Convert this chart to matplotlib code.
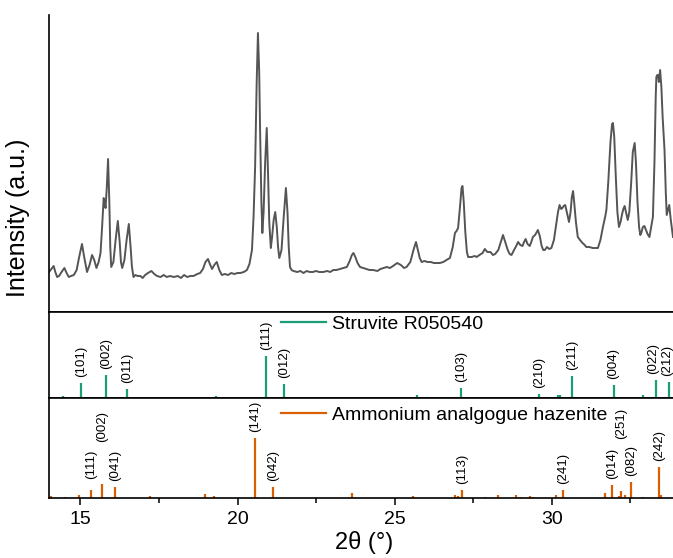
import numpy as np
import matplotlib
matplotlib.use("Agg")
import matplotlib.pyplot as plt

plt.rcParams['font.family'] = ['Liberation Sans', 'DejaVu Sans']

# measured pattern (2theta, intensity a.u.)
two_theta = [
    14.00, 14.05, 14.10, 14.15, 14.20, 14.26, 14.32, 14.40, 14.49, 14.56, 14.63, 14.70,
    14.79, 14.88, 14.96, 15.05, 15.12, 15.21, 15.29, 15.37, 15.44, 15.51, 15.58, 15.64,
    15.69, 15.74, 15.78, 15.80, 15.84, 15.88, 15.92, 15.95, 15.98, 16.05, 16.12, 16.19,
    16.25, 16.29, 16.33, 16.40, 16.47, 16.54, 16.59, 16.64, 16.69, 16.75, 16.82, 16.91,
    16.98, 17.06, 17.15, 17.26, 17.35, 17.44, 17.55, 17.65, 17.75, 17.85, 17.97, 18.10,
    18.20, 18.30, 18.40, 18.50, 18.60, 18.72, 18.81, 18.90, 18.98, 19.06, 19.12, 19.19,
    19.26, 19.34, 19.42, 19.50, 19.60, 19.70, 19.80, 19.90, 20.00, 20.09, 20.20, 20.30,
    20.38, 20.46, 20.51, 20.56, 20.61, 20.65, 20.69, 20.72, 20.76, 20.79, 20.83, 20.88,
    20.93, 20.97, 21.01, 21.06, 21.10, 21.15, 21.20, 21.25, 21.29, 21.33, 21.40, 21.47,
    21.54, 21.59, 21.63, 21.67, 21.72, 21.78, 21.90, 22.00, 22.10, 22.20, 22.30, 22.40,
    22.50, 22.60, 22.73, 22.85, 22.95, 23.05, 23.15, 23.26, 23.37, 23.48, 23.57, 23.64,
    23.69, 23.75, 23.82, 23.90, 24.00, 24.10, 24.20, 24.32, 24.45, 24.55, 24.65, 24.75,
    24.85, 24.95, 25.08, 25.20, 25.30, 25.38, 25.50, 25.60, 25.68, 25.74, 25.80, 25.86,
    25.95, 26.05, 26.15, 26.25, 26.35, 26.44, 26.55, 26.65, 26.76, 26.85, 26.92, 26.97,
    27.02, 27.08, 27.13, 27.16, 27.20, 27.25, 27.30, 27.34, 27.45, 27.55, 27.61, 27.70,
    27.80, 27.87, 27.95, 28.05, 28.13, 28.20, 28.30, 28.38, 28.45, 28.52, 28.60, 28.66,
    28.72, 28.80, 28.87, 28.93, 29.00, 29.07, 29.12, 29.17, 29.23, 29.30, 29.35, 29.40,
    29.47, 29.56, 29.62, 29.68, 29.73, 29.78, 29.85, 29.92, 29.99, 30.07, 30.15, 30.20,
    30.25, 30.30, 30.34, 30.38, 30.43, 30.48, 30.55, 30.60, 30.64, 30.68, 30.72, 30.77,
    30.83, 30.90, 30.98, 31.05, 31.10, 31.20, 31.30, 31.40, 31.47, 31.55, 31.63, 31.70,
    31.74, 31.80, 31.87, 31.92, 31.95, 31.99, 32.04, 32.09, 32.14, 32.19, 32.24, 32.28,
    32.32, 32.37, 32.42, 32.47, 32.53, 32.58, 32.64, 32.68, 32.73, 32.78, 32.82, 32.86,
    32.90, 32.95, 33.00, 33.05, 33.11, 33.16, 33.22, 33.27, 33.31, 33.33, 33.36, 33.38,
    33.41, 33.45, 33.49, 33.53, 33.59, 33.63, 33.66, 33.70, 33.74, 33.79, 33.83, 33.86,
]
intensity = [
    40, 42, 44, 46, 40, 35, 36, 40, 44, 39, 35, 36,
    37, 42, 55, 68, 55, 40, 47, 57, 52, 44, 50, 59,
    85, 114, 108, 104, 125, 153, 110, 65, 45, 50, 72, 91,
    70, 50, 44, 52, 72, 88, 68, 45, 35, 37, 36, 36,
    34, 37, 39, 41, 38, 36, 35, 37, 35, 36, 35, 36,
    34, 37, 35, 36, 36, 38, 39, 43, 50, 53, 48, 43,
    47, 50, 42, 37, 38, 37, 39, 38, 39, 39, 40, 42,
    48, 62, 95, 145, 230, 279, 240, 179, 110, 79, 100, 150,
    184, 140, 90, 64, 75, 92, 100, 85, 65, 54, 62, 95,
    124, 100, 65, 45, 42, 41, 40, 41, 39, 41, 40, 40,
    41, 40, 40, 41, 40, 42, 42, 43, 44, 45, 51, 57,
    59, 55, 49, 45, 44, 43, 42, 42, 41, 43, 44, 45,
    44, 46, 49, 47, 44, 45, 50, 62, 70, 62, 54, 50,
    51, 50, 50, 49, 49, 49, 50, 52, 54, 65, 79, 81,
    84, 105, 124, 126, 110, 80, 60, 55, 55, 56, 55, 57,
    59, 63, 60, 60, 57, 58, 62, 70, 77, 70, 62, 58,
    57, 62, 66, 70, 67, 66, 70, 73, 68, 66, 70, 75,
    77, 82, 76, 66, 62, 62, 65, 63, 64, 72, 89, 100,
    107, 103, 104, 106, 107, 100, 90, 100, 115, 121, 108, 90,
    75, 72, 69, 67, 65, 65, 64, 64, 64, 72, 85, 95,
    102, 130, 170, 188, 189, 175, 135, 100, 85, 90, 98, 103,
    106, 99, 92, 100, 130, 160, 169, 150, 110, 85, 77, 80,
    85, 86, 82, 78, 75, 84, 95, 150, 215, 235, 237, 237,
    230, 242, 225, 195, 162, 120, 97, 102, 107, 92, 82, 75,
]

# reference sticks
struvite_pos = [14.45, 15.02, 15.83, 16.48, 19.32, 20.91, 21.48, 25.06, 25.70, 27.11,
                29.14, 29.60, 30.20, 30.25, 30.66, 31.97, 32.92, 33.33, 33.72]
struvite_int = [2, 15, 23.5, 9.5, 2, 42.5, 14.5, 1.5, 3.5, 10,
                1, 4.5, 3, 3, 22, 13.5, 3, 18.5, 16]
struvite_hkl = ['', '(101)', '(002)', '(011)', '', '(111)', '(012)', '', '', '(103)',
                '', '(210)', '', '', '(211)', '(004)', '', '(022)', '(212)']

hazenite_pos = [14.05, 14.52, 14.97, 15.35, 15.70, 16.10, 17.23, 18.97, 19.26, 20.56,
                21.13, 23.64, 25.57, 26.92, 27.02, 27.16, 27.87, 28.29, 28.85, 28.99,
                29.30, 29.41, 30.15, 30.37, 31.71, 31.91, 32.14, 32.22, 32.34, 32.53,
                32.92, 33.41, 33.49]
hazenite_int = [2, 1, 3, 7.7, 13.7, 11, 2, 3.7, 1.7, 59.3,
                11, 4.3, 2, 2.7, 2, 7.7, 1, 2.3, 2.3, 1,
                1.7, 1, 3, 7.7, 4.3, 12.7, 1.3, 7, 3, 16,
                1, 30.3, 3]
hazenite_hkl = ['', '', '', '(111)', '(002)', '(041)', '', '', '', '(141)',
                '(042)', '', '', '', '', '(113)', '', '', '', '',
                '', '', '', '(241)', '', '(014)', '', '(251)', '', '(082)',
                '', '(242)', '']
# labels lifted above crowded neighbours (points)
hazenite_lift = {'(002)': 30, '(251)': 37, '(111)': 8}
# labels pushed sideways so the last two don't collide or leave the figure (points)
struvite_shift = {'(022)': -2.5, '(212)': -1}

green = '#1b9e77'
orange = '#d95f02'

fig = plt.figure(figsize=(6.73, 5.58), dpi=100)
W, H = 673, 558
left = 49 / W
ax1 = fig.add_axes([left, 1 - 312 / H, 1 - left, 297 / H])
ax2 = fig.add_axes([left, 1 - 398 / H, 1 - left, 86 / H], sharex=ax1)
ax3 = fig.add_axes([left, 1 - 497.5 / H, 1 - left, 99.5 / H], sharex=ax1)

ax1.plot(two_theta, intensity, color='#555555', lw=1.4)
ax1.set_ylim(0, 297)

ax2.vlines(struvite_pos, 0, struvite_int, color=green, lw=1.6)
ax2.set_ylim(0, 86)
ax3.vlines(hazenite_pos, 0, hazenite_int, color=orange, lw=1.6)
ax3.set_ylim(0, 99.5)

for x, h, lab in zip(struvite_pos, struvite_int, struvite_hkl):
    if lab:
        ax2.annotate(lab, (x, h), xytext=(struvite_shift.get(lab, 0), 4),
                     textcoords='offset points', rotation=90, ha='center',
                     va='bottom', fontsize=9.5, annotation_clip=False)
for x, h, lab in zip(hazenite_pos, hazenite_int, hazenite_hkl):
    if lab:
        ax3.annotate(lab, (x, h), xytext=(0, hazenite_lift.get(lab, 4.3)),
                     textcoords='offset points', rotation=90, ha='center',
                     va='bottom', fontsize=9.5, annotation_clip=False)

ax2.plot([], [], color=green, lw=1.6, label='Struvite R050540')
ax3.plot([], [], color=orange, lw=1.6, label='Ammonium analgogue hazenite')
for ax, yy in [(ax2, 0.86), (ax3, 0.83)]:
    ax.legend(loc='center left', bbox_to_anchor=(0.372, yy), frameon=False,
              fontsize=14, handlelength=2.3, handletextpad=0.3,
              borderpad=0, borderaxespad=0)

for ax in (ax1, ax2, ax3):
    ax.set_xlim(14, 33.86)
    ax.set_yticks([])
    ax.spines['right'].set_visible(False)
    for s in ax.spines.values():
        s.set_linewidth(1.2)
ax1.spines['top'].set_visible(False)
for ax in (ax1, ax2):
    ax.tick_params(axis='x', which='both', bottom=False, labelbottom=False)

ax3.set_xticks([15, 20, 25, 30])
ax3.set_xticks([17.5, 22.5, 27.5, 32.5], minor=True)
ax3.tick_params(axis='x', which='major', length=5, width=1.1, labelsize=14, pad=5)
ax3.tick_params(axis='x', which='minor', length=3.5, width=1.1)

fig.text(0.027, 1 - 218 / H, 'Intensity (a.u.)', rotation=90, ha='center',
         va='center', fontsize=18)
fig.text(364 / W, 1 - 543 / H, '2θ (°)', ha='center', va='center', fontsize=17)

fig.savefig('out.png', dpi=100)
